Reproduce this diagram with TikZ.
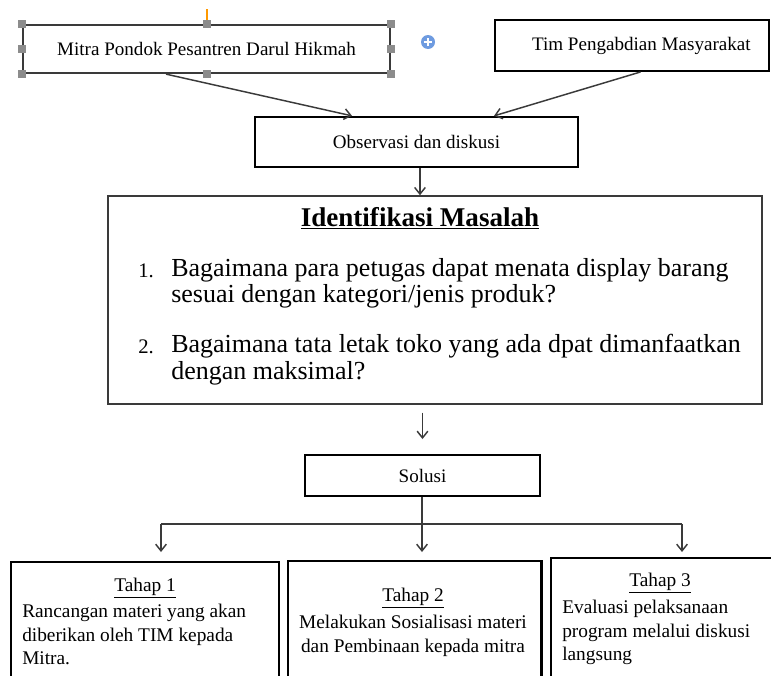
\documentclass[tikz,border=0pt]{standalone}
\usepackage{fontspec}
\setmainfont{Liberation Serif}
\usetikzlibrary{arrows.meta}
\definecolor{abuhandle}{HTML}{8C8C8C}
\definecolor{birubulat}{HTML}{6E9BE0}
\definecolor{garisgelap}{HTML}{3A3A3A}
\begin{document}
\begin{tikzpicture}[x=0.75pt,y=-0.75pt]
\tikzstyle{every node}+=[inner sep=0pt]
\tikzstyle{kotak}=[draw=black, line width=1.7pt]
\tikzstyle{panah}=[draw=garisgelap, line width=1.1pt, -{Straight Barb[length=5pt,width=8pt]}]
\tikzstyle{teks}=[font=\fontsize{14.3}{17}\selectfont]
\tikzstyle{butir}=[font=\fontsize{19.5}{20}\selectfont]
\tikzstyle{nomor}=[font=\fontsize{15.5}{18}\selectfont]
\tikzstyle{isi}=[font=\fontsize{14.5}{17.6}\selectfont]
\tikzstyle{handle}=[fill=abuhandle, minimum size=6pt]
\clip (0,0) rectangle (771,675);
% kotak atas
\node[kotak, draw=garisgelap, teks, minimum width=275pt, minimum height=36pt] (mitra) at (206.5,49) {Mitra Pondok Pesantren Darul Hikmah};
\foreach \a in {north west,north,north east,east,south east,south,south west,west}
  \node[handle] at (mitra.\a) {};
\draw [orange!80!yellow, line width=1pt] (207,9) -- (207,20);
\node[circle, fill=birubulat, minimum size=10.5pt] (tambah) at (428,42) {};
\draw [white, line width=1.3pt] ([xshift=-2.7pt]tambah.center) -- ([xshift=2.7pt]tambah.center);
\draw [white, line width=1.3pt] ([yshift=-2.7pt]tambah.center) -- ([yshift=2.7pt]tambah.center);
\node[kotak, teks, minimum width=205.5pt, minimum height=38pt] (tim) at (632,45.5) {\hspace*{14pt}Tim Pengabdian Masyarakat};
\node[kotak, teks, minimum width=242pt, minimum height=37.5pt] (observasi) at (416.5,142) {Observasi dan diskusi};
\draw[panah] ([xshift=108pt]mitra.south west) -- ([xshift=73.5pt]observasi.north west);
\draw[panah] ([xshift=110pt]tim.south west) -- ([xshift=180pt]observasi.north west);
% identifikasi masalah
\node[kotak, draw=garisgelap, line width=1.1pt, minimum width=490.5pt, minimum height=156pt] (identifikasi) at (435,300) {};
\draw[panah] ([xshift=2.6pt]observasi.south) -- ([xshift=2.6pt]observasi.south |- identifikasi.north);
\node[font=\fontsize{20.3}{24}\selectfont\bfseries] (judul) at (420,218) {\underline{Identifikasi Masalah}};
\node[nomor, anchor=base west] (no1) at (138,277) {1.};
\node[butir, anchor=north west, align=left] (soal1) at (171,258) {Bagaimana para petugas dapat menata display barang\\sesuai dengan kategori/jenis produk?};
\node[nomor, anchor=base west] (no2) at (138,353) {2.};
\node[butir, anchor=north west, align=left] (soal2) at (171,334) {Bagaimana tata letak toko yang ada dpat dimanfaatkan\\dengan maksimal?};
% solusi
\node[kotak, teks, minimum width=176pt, minimum height=31pt] (solusi) at (422.5,475.5) {Solusi};
\draw[panah] ([yshift=-6pt]identifikasi.south -| solusi.north) -- ([yshift=11pt]solusi.north);
\coordinate (cabang) at (422,524);
\coordinate (kiri) at (161,524);
\coordinate (kanan) at (682,524);
\coordinate (ujungA) at (161,552);
\coordinate (ujungB) at (422,552);
\coordinate (ujungC) at (682,552);
\draw [garisgelap, line width=1.1pt] (solusi.south -| cabang) -- (cabang);
\draw [garisgelap, line width=1.1pt] (kiri) -- (kanan);
\draw[panah] (kiri) -- (ujungA);
\draw[panah] (cabang) -- (ujungB);
\draw[panah] (kanan) -- (ujungC);
% tahap
\node[kotak, line width=1.8pt, anchor=north west, minimum width=201pt, minimum height=100pt] (tahapA) at (10,561) {};
\node[kotak, line width=1.8pt, anchor=north west, minimum width=190pt, minimum height=100pt] (tahapB) at (287,560) {};
\node[kotak, line width=1.8pt, anchor=north west, minimum width=170pt, minimum height=100pt] (tahapC) at (550,557) {};
\node[isi] (judulA) at (145,588) {\underline{Tahap 1}};
\node[isi, anchor=north west, align=left] (isiA) at (22,604) {Rancangan materi yang akan\\diberikan oleh TIM kepada\\Mitra.};
\node[isi] (judulB) at (413,598) {\underline{Tahap 2}};
\node[isi, anchor=north, align=center] (isiB) at (413,615) {Melakukan Sosialisasi materi\\dan Pembinaan kepada mitra};
\node[isi] (judulC) at (660,583) {\underline{Tahap 3}};
\node[isi, anchor=north west, align=left] (isiC) at (562,600) {Evaluasi pelaksanaan\\program melalui diskusi\\langsung};
\end{tikzpicture}
\end{document}
